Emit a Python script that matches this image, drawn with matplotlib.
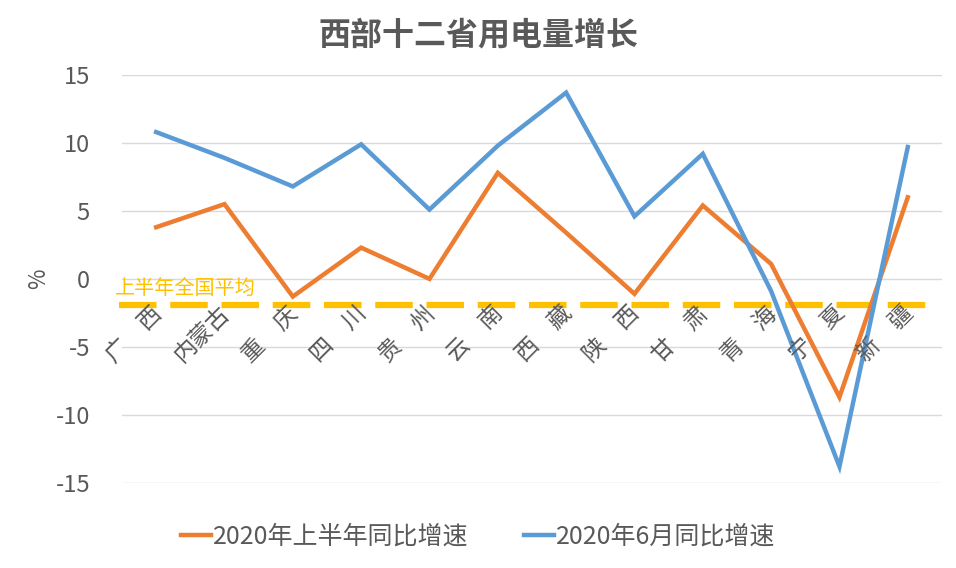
import matplotlib
matplotlib.use("Agg")
import matplotlib.pyplot as plt
import numpy as np

plt.rcParams["font.family"] = ["Noto Sans CJK SC", "DejaVu Sans"]

provinces = ["广　西", "内蒙古", "重　庆", "四　川", "贵　州", "云　南",
             "西　藏", "陕　西", "甘　肃", "青　海", "宁　夏", "新　疆"]
h1_growth = [3.8, 5.5, -1.3, 2.3, 0.0, 7.8, 3.4, -1.1, 5.4, 1.1, -8.7, 6.0]
june_growth = [10.8, 8.9, 6.8, 9.9, 5.1, 9.8, 13.7, 4.6, 9.2, -0.9, -13.8, 9.7]
national_avg = -1.9

GREY = "#595959"
ORANGE = "#ED7D31"
BLUE = "#5B9BD5"
GOLD = "#FFC000"

fig = plt.figure(figsize=(9.56, 5.68), dpi=100)
ax = fig.add_axes([0.1276, 0.150, 0.8577, 0.718])

x = np.arange(len(provinces))
ax.plot(x, h1_growth, color=ORANGE, lw=3.2, label="2020年上半年同比增速", solid_joinstyle="miter")
ax.plot(x, june_growth, color=BLUE, lw=3.2, label="2020年6月同比增速", solid_joinstyle="miter")

# national average dashed line
ax.plot([-0.55, 11.3], [national_avg, national_avg], color=GOLD, lw=4.5,
        dashes=(6, 2.2), clip_on=False, zorder=1)
ax.text(-0.6, national_avg + 0.45, "上半年全国平均", color=GOLD, fontsize=14.5,
        ha="left", va="bottom")

ax.set_xlim(-0.5, 11.5)
ax.set_ylim(-15, 15)
ax.set_yticks([-15, -10, -5, 0, 5, 10, 15])
ax.set_yticklabels(["-15", "-10", "-5", "0", "5", "10", "15"])
ax.tick_params(axis="y", length=0, labelsize=17, labelcolor=GREY, pad=23)
ax.set_xticks([])
ax.grid(axis="y", color="#D9D9D9", lw=1)
ax.set_axisbelow(True)
for s in ax.spines.values():
    s.set_visible(False)

# category labels next to the zero line, rotated
for i, name in enumerate(provinces):
    ax.annotate(name, xy=(i, 0), xytext=(-4.5, -16.5), textcoords="offset points",
                ha="right", va="top", rotation=45, rotation_mode="anchor",
                fontsize=16.5, color=GREY)

ax.set_ylabel("%", fontsize=16, color=GREY, labelpad=4)
fig.suptitle("西部十二省用电量增长", fontsize=23, color=GREY, x=0.5, y=0.937,
             va="center", fontweight="bold")

fig.legend(loc="center", bbox_to_anchor=(0.5, 0.055), ncol=2, frameon=False,
           fontsize=18, labelcolor=GREY, handlelength=1.2, handletextpad=0.1,
           columnspacing=2.2)

fig.savefig("out.png", dpi=100)
